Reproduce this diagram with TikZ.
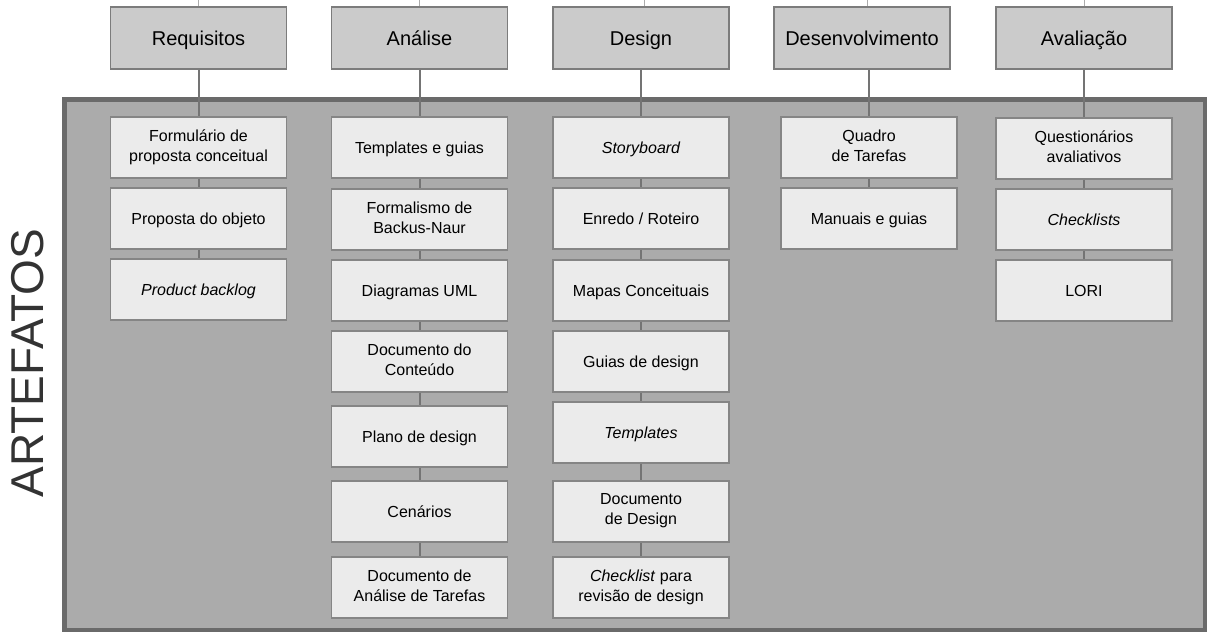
\documentclass[tikz,border=0pt]{standalone}
\usepackage{fontspec}
\setmainfont{Liberation Sans}
\definecolor{hdrfill}{HTML}{CBCBCB}
\definecolor{hdrline}{HTML}{7C7C7C}
\definecolor{artfill}{HTML}{EBEBEB}
\definecolor{artline}{HTML}{858585}
\definecolor{panelfill}{HTML}{ABABAB}
\definecolor{panelline}{HTML}{6A6A6A}
\definecolor{linkcol}{HTML}{747474}
% invisible strut that centres capitals vertically in a box
\newcommand{\capstrut}{\rule[-0.265em]{0pt}{1.25em}}
\begin{document}
\begin{tikzpicture}[x=1pt,y=-1pt,
  phase/.style={draw=hdrline, fill=hdrfill, line width=1.3pt, minimum width=176pt,
    minimum height=62pt, inner sep=0pt, font=\fontsize{20}{25}\selectfont,
    execute at begin node=\capstrut},
  artefact/.style={draw=artline, fill=artfill, line width=1.3pt, minimum width=176pt,
    minimum height=61pt, inner sep=0pt, align=center, font=\fontsize{16}{20}\selectfont,
    execute at begin node=\capstrut, execute at end node=\capstrut},
  link/.style={draw=linkcol, line width=2pt},
  tick/.style={draw=linkcol!60, line width=1pt}]
\useasboundingbox (0,0) rectangle (1207,632);

% artefact panel
\draw[draw=panelline, fill=panelfill, line width=4.5pt] (64.5,99.5) rectangle (1205,630);
\node[rotate=90, font=\fontsize{46}{50}\selectfont, text=black!80] (label) at (28,363) {ARTEFATOS};

% phases
\node[phase] (h1) at (198.5,38) {Requisitos};
\node[phase] (h2) at (419.5,38) {Análise};
\node[phase] (h3) at (641,38) {Design};
\node[phase] (h4) at (862,38) {Desenvolvimento};
\node[phase] (h5) at (1084,38) {Avaliação};

\coordinate (t1) at (198.5,0);
\coordinate (t2) at (419.5,0);
\coordinate (t3) at (644,0);
\coordinate (t4) at (867,0);
\coordinate (t5) at (1084,0);

% Requisitos
\node[artefact] (r1) at (198.5,147.5) {Formulário de\\proposta conceitual};
\node[artefact] (r2) at (198.5,218.5) {Proposta do objeto};
\node[artefact] (r3) at (198.5,289.5) {\itshape Product backlog};

% Análise
\node[artefact] (a1) at (419.5,147.5) {Templates e guias};
\node[artefact] (a2) at (419.5,219.5) {Formalismo de\\Backus-Naur};
\node[artefact] (a3) at (419.5,290.5) {Diagramas UML};
\node[artefact] (a4) at (419.5,361.5) {Documento do\\Conteúdo};
\node[artefact] (a5) at (419.5,436.5) {Plano de design};
\node[artefact] (a6) at (419.5,511.5) {Cenários};
\node[artefact] (a7) at (419.5,587.5) {Documento de\\Análise de Tarefas};

% Design
\node[artefact] (d1) at (641,147.5) {\itshape Storyboard};
\node[artefact] (d2) at (641,218.5) {Enredo / Roteiro};
\node[artefact] (d3) at (641,290.5) {Mapas Conceituais};
\node[artefact] (d4) at (641,361.5) {Guias de design};
\node[artefact] (d5) at (641,432.5) {\itshape Templates};
\node[artefact] (d6) at (641,511.5) {Documento\\de Design};
\node[artefact] (d7) at (641,587.5) {\textit{Checklist} para\\revisão de design};

% Desenvolvimento
\node[artefact] (v1) at (869,147.5) {Quadro\\de Tarefas};
\node[artefact] (v2) at (869,218.5) {Manuais e guias};

% Avaliação
\node[artefact] (e1) at (1084,148.5) {Questionários\\avaliativos};
\node[artefact] (e2) at (1084,219.5) {\itshape Checklists};
\node[artefact] (e3) at (1084,290.5) {LORI};

% connectors
\draw[tick] (t1) -- (h1.north);
\draw[tick] (t2) -- (h2.north);
\draw[tick] (t3) -- (t3 |- h3.north);
\draw[tick] (t4) -- (t4 |- h4.north);
\draw[tick] (t5) -- (h5.north);

\draw[link] (h1.south) -- (r1.north);
\draw[link] (r1.south) -- (r2.north);
\draw[link] (r2.south) -- (r3.north);

\draw[link] (h2.south) -- (a1.north);
\foreach \i/\j in {1/2,2/3,3/4,4/5,5/6,6/7}
  \draw[link] (a\i.south) -- (a\j.north);

\draw[link] (h3.south) -- (d1.north);
\foreach \i/\j in {1/2,2/3,3/4,4/5,5/6,6/7}
  \draw[link] (d\i.south) -- (d\j.north);

\draw[link] (h4.south -| v1.north) -- (v1.north);
\draw[link] (v1.south) -- (v2.north);

\draw[link] (h5.south) -- (e1.north);
\draw[link] (e1.south) -- (e2.north);
\draw[link] (e2.south) -- (e3.north);
\end{tikzpicture}
\end{document}
